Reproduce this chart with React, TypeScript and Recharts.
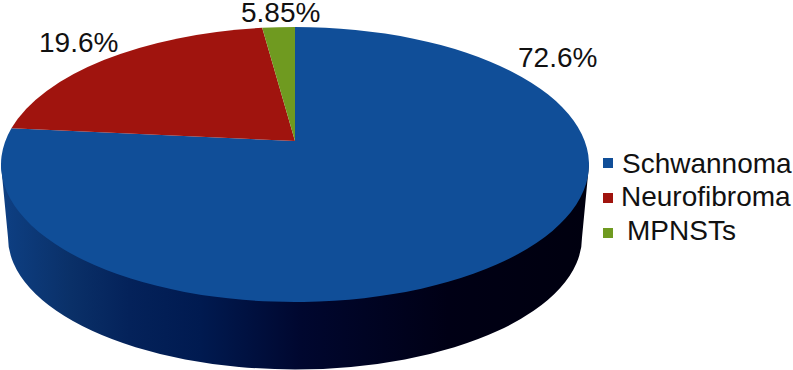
import React from 'react';
import { PieChart, Pie, Legend } from 'recharts';

const categories = ['Schwannoma', 'Neurofibroma', 'MPNSTs'];
// printed percentages
const printedValues = [72.6, 19.6, 5.85];
// share of the rim each slice takes up in the picture (the drawing doesn't follow the printed numbers)
const drawnShares = [79.25, 18.97, 1.78];
const colors = ['#104e98', '#a0140e', '#6f9a20'];

const labelPos = [
  { x: 518, y: 67 },
  { x: 39, y: 52 },
  { x: 241, y: 22 },
];
const legendPos = [
  { box: 158, text: 173, x: 622 },
  { box: 193, text: 206, x: 621 },
  { box: 228, text: 240, x: 627 },
];

const FONT = '"Liberation Sans", Arial, sans-serif';
const RY = 137.5;
const APEX_LIFT = 23.5; // apex sits above the ellipse center (perspective)
const WALL = { depth: 73, rx: 287, ry: 132 };

const tableRows = categories.map((name, i) => ({
  name,
  share: drawnShares[i],
  printed: printedValues[i],
  fill: colors[i],
}));

const rim = (cx: number, cy: number, r: number, deg: number) => {
  const a = (deg * Math.PI) / 180;
  return [cx + r * Math.cos(a), cy - RY * Math.sin(a)];
};

const EllipticSlice = (props: any) => {
  const { cx, cy, outerRadius: r, startAngle, endAngle, fill, index } = props;
  const [x1, y1] = rim(cx, cy, r, startAngle);
  const [x2, y2] = rim(cx, cy, r, endAngle);
  const large = Math.abs(startAngle - endAngle) > 180 ? 1 : 0;
  const apexY = cy - APEX_LIFT;
  const face = `M${cx},${apexY} L${x1},${y1} A${r},${RY} 0 ${large} 1 ${x2},${y2} Z`;
  // only the first slice has the front rim, so the wall goes with it
  const wallY = cy + WALL.depth;
  const wall =
    `M${cx - r},${cy} L${cx - WALL.rx},${wallY} ` +
    `A${WALL.rx},${WALL.ry} 0 0 0 ${cx + WALL.rx},${wallY} L${cx + r},${cy} Z`;
  return (
    <g>
      {index === 0 && <path d={wall} fill="url(#wallShade)" />}
      <path d={face} fill={fill} />
    </g>
  );
};

const renderLabel = (props: any) => {
  const p = labelPos[props.index];
  return (
    <text x={p.x} y={p.y} fontSize={28} fontFamily={FONT} fill="#111">
      {printedValues[props.index]}%
    </text>
  );
};

const LegendBlock = (props: any) => (
  <div>
    {(props.payload || []).map((item: any, i: number) => (
      <React.Fragment key={item.value}>
        <div
          style={{
            position: 'absolute',
            left: 603,
            top: legendPos[i].box,
            width: 10,
            height: 10,
            background: colors[i],
          }}
        />
        <div
          style={{
            position: 'absolute',
            left: legendPos[i].x,
            top: legendPos[i].text - 25,
            fontSize: 28,
            lineHeight: '32px',
            fontFamily: FONT,
            color: '#111',
            whiteSpace: 'nowrap',
          }}
        >
          {item.value}
        </div>
      </React.Fragment>
    ))}
  </div>
);

export default function App() {
  return (
    <div style={{ position: 'absolute', left: 0, top: 0, width: 793, height: 370, overflow: 'hidden' }}>
      <PieChart width={793} height={370} margin={{ top: 0, right: 0, bottom: 0, left: 0 }}>
        <defs>
          <linearGradient id="wallShade" gradientUnits="userSpaceOnUse" x1="0" y1="0" x2="590" y2="0">
            <stop offset="0" stopColor="#0e4084" />
            <stop offset="0.12" stopColor="#0a3068" />
            <stop offset="0.22" stopColor="#04225a" />
            <stop offset="0.34" stopColor="#001a50" />
            <stop offset="0.51" stopColor="#00072f" />
            <stop offset="0.76" stopColor="#000015" />
            <stop offset="1" stopColor="#00000f" />
          </linearGradient>
        </defs>
        <Pie
          data={tableRows}
          dataKey="share"
          nameKey="name"
          cx={295}
          cy={164.5}
          outerRadius={294}
          startAngle={90}
          endAngle={-270}
          stroke="none"
          shape={EllipticSlice}
          label={renderLabel}
          labelLine={false}
          isAnimationActive={false}
        />
        <Legend
          content={LegendBlock}
          itemSorter={null}
          wrapperStyle={{ position: 'absolute', left: 0, top: 0, width: 793, height: 370, bottom: 'auto' }}
        />
      </PieChart>
    </div>
  );
}
